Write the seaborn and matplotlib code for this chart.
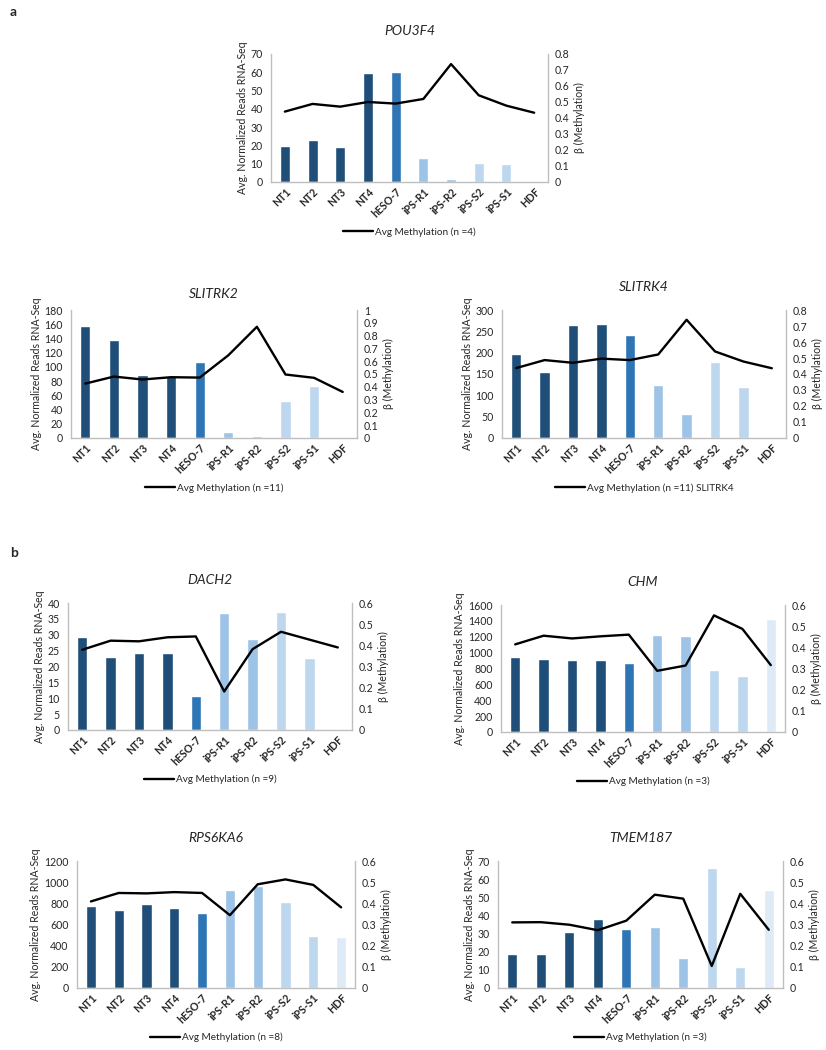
import matplotlib
matplotlib.use("Agg")
import matplotlib.pyplot as plt
from matplotlib.lines import Line2D
import numpy as np
import pandas as pd
import seaborn as sns

samples = ["NT1", "NT2", "NT3", "NT4", "hESO-7", "iPS-R1", "iPS-R2", "iPS-S2", "iPS-S1", "HDF"]
colors = ["#1f4e79", "#1f4e79", "#1f4e79", "#1f4e79", "#2e75b6",
          "#9dc3e6", "#9dc3e6", "#bdd7ee", "#bdd7ee", "#deebf7"]

genes = ["POU3F4", "SLITRK2", "SLITRK4", "DACH2", "CHM", "RPS6KA6", "TMEM187"]

pou3f4_reads = [19.7, 23.2, 19.1, 59.6, 60.1, 13.3, 1.4, 10.3, 10.0, 0.6]
pou3f4_meth = [0.44, 0.488, 0.471, 0.50, 0.49, 0.519, 0.737, 0.542, 0.477, 0.433]

slitrk2_reads = [158, 138, 88.5, 86.5, 107, 8.5, 3.5, 52, 73, 0.5]
slitrk2_meth = [0.425, 0.48, 0.457, 0.475, 0.472, 0.646, 0.869, 0.496, 0.47, 0.36]

slitrk4_reads = [197, 155, 264, 268, 241, 124, 57, 178, 119, 3]
slitrk4_meth = [0.437, 0.487, 0.47, 0.496, 0.487, 0.522, 0.739, 0.541, 0.478, 0.436]

dach2_reads = [29.3, 23.1, 24.4, 24.3, 10.6, 36.8, 28.7, 37.1, 22.6, 0.3]
dach2_meth = [0.379, 0.422, 0.419, 0.438, 0.442, 0.182, 0.382, 0.464, 0.427, 0.39]

chm_reads = [943, 914, 901, 901, 867, 1217, 1213, 779, 703, 1419]
chm_meth = [0.414, 0.455, 0.442, 0.452, 0.46, 0.289, 0.314, 0.551, 0.487, 0.316]

rps6ka6_reads = [777, 733, 796, 758, 711, 925, 966, 810, 489, 480]
rps6ka6_meth = [0.409, 0.449, 0.447, 0.453, 0.449, 0.344, 0.49, 0.513, 0.487, 0.381]

tmem187_reads = [18.6, 18.6, 30.8, 37.9, 32.4, 33.5, 16.8, 65.9, 11.6, 54.0]
tmem187_meth = [0.31, 0.311, 0.299, 0.273, 0.318, 0.441, 0.422, 0.104, 0.445, 0.275]

legend_labels = ["Avg Methylation (n =4)", "Avg Methylation (n =11)",
                 "Avg Methylation (n =11) SLITRK4", "Avg Methylation (n =9)",
                 "Avg Methylation (n =3)", "Avg Methylation (n =8)",
                 "Avg Methylation (n =3)"]
left_ticks = [np.arange(0, 71, 10), np.arange(0, 181, 20), np.arange(0, 301, 50),
              np.arange(0, 41, 5), np.arange(0, 1601, 200), np.arange(0, 1201, 200),
              np.arange(0, 71, 10)]
right_max = [0.8, 1.0, 0.8, 0.6, 0.6, 0.6, 0.6]

reads = [pou3f4_reads, slitrk2_reads, slitrk4_reads, dach2_reads,
         chm_reads, rps6ka6_reads, tmem187_reads]
meths = [pou3f4_meth, slitrk2_meth, slitrk4_meth, dach2_meth,
         chm_meth, rps6ka6_meth, tmem187_meth]

# axes rectangles in pixels: left, top, right, bottom
W, H = 826, 1050
boxes = [(271, 54, 548, 182), (71, 310, 357, 438), (502, 310, 786, 438),
         (68, 603, 352, 730), (501, 605, 785, 732),
         (77, 861, 355, 988), (498, 861, 783, 988)]
title_pads = [14, 9, 14, 14, 14, 14, 14]

sns.set_theme(style="white")
plt.rcParams["font.family"] = ["Lato", "DejaVu Sans"]
txt = "#262626"
spine = "#bfbfbf"
fs = 7.6

fig = plt.figure(figsize=(W / 100, H / 100), dpi=100)

for i, gene in enumerate(genes):
    l, t, r, b = boxes[i]
    ax = fig.add_axes([l / W, 1 - b / H, (r - l) / W, (b - t) / H])
    df = pd.DataFrame({"sample": samples, "reads": reads[i], "meth": meths[i]})
    sns.barplot(data=df, x="sample", y="reads", hue="sample", palette=colors,
                width=0.36, legend=False, ax=ax, saturation=1)
    ax.set_xlim(-0.5, len(samples) - 0.5)
    ax.set_ylim(0, left_ticks[i][-1])
    ax.set_yticks(left_ticks[i])
    ax.set_xlabel("")
    ax.set_ylabel("Avg. Normalized Reads RNA-Seq", fontsize=fs, color=txt, labelpad=2)
    ax.tick_params(axis="y", labelsize=fs, colors=txt, length=0, pad=6)
    ax.tick_params(axis="x", labelsize=fs, colors=txt, length=0, pad=3)
    for lab in ax.get_xticklabels():
        lab.set_rotation(45)
        lab.set_ha("right")
        lab.set_rotation_mode("anchor")
        lab.set_fontweight("bold")
    for s in ["top", "right"]:
        ax.spines[s].set_visible(False)
    for s in ["left", "bottom"]:
        ax.spines[s].set_color(spine)
        ax.spines[s].set_linewidth(1)

    ax2 = ax.twinx()
    sns.lineplot(x=np.arange(len(samples)), y=df["meth"], color="black",
                 linewidth=1.7, ax=ax2)
    rt = np.round(np.arange(0, right_max[i] + 0.001, 0.1), 1)
    ax2.set_ylim(0, right_max[i])
    ax2.set_yticks(rt)
    ax2.set_yticklabels([("%g" % v) for v in rt])
    ax2.set_ylabel("\u03b2 (Methylation)", fontsize=fs, color=txt, labelpad=3)
    ax2.tick_params(axis="y", labelsize=fs, colors=txt, length=0, pad=5)
    for s in ["top", "left", "bottom"]:
        ax2.spines[s].set_visible(False)
    ax2.spines["right"].set_color(spine)
    ax2.spines["right"].set_linewidth(1)

    ax.set_title(gene, fontsize=10, style="italic", color=txt, pad=title_pads[i])

    handle = Line2D([0], [0], color="black", linewidth=1.7)
    ax2.legend([handle], [legend_labels[i]], loc="center", bbox_to_anchor=(0.5, -0.39),
               frameon=False, fontsize=7.2, handlelength=3.0, handletextpad=0.2,
               labelcolor=txt)

fig.text(10 / W, 1 - 12 / H, "a", fontsize=10, fontweight="bold", va="center")
fig.text(10 / W, 1 - 553 / H, "b", fontsize=10, fontweight="bold", va="center")

fig.savefig("out.png", dpi=100, facecolor="white")
